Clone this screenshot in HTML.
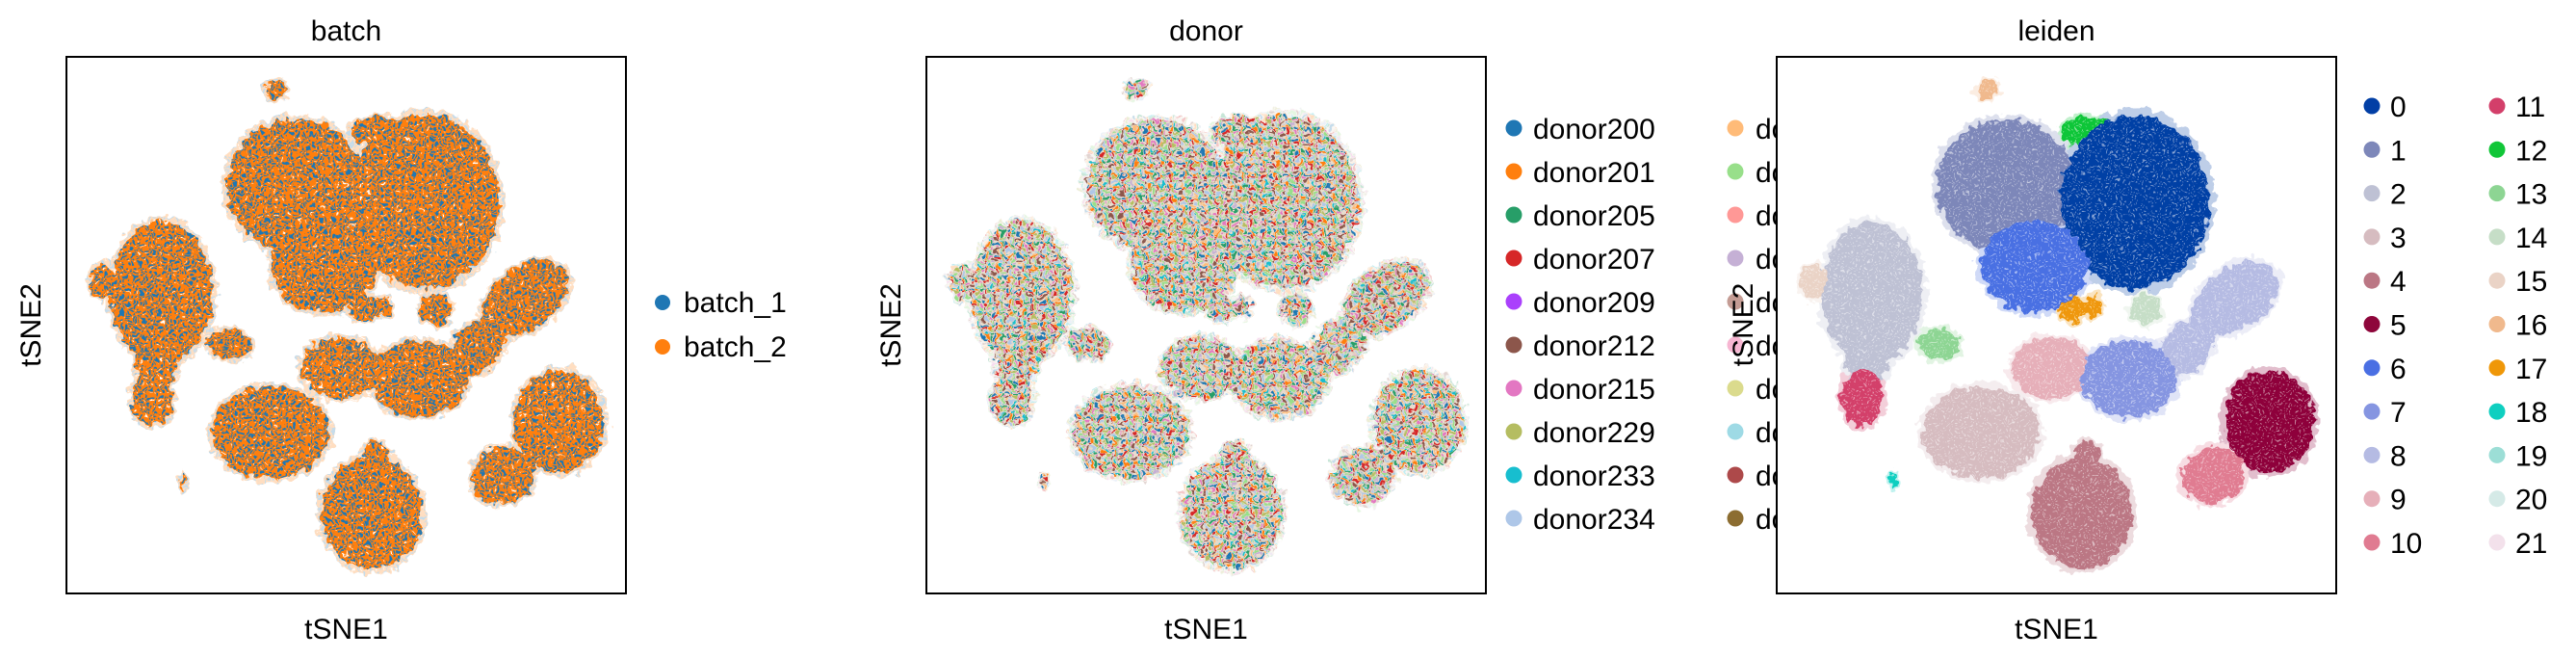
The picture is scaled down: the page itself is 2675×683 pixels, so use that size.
<!DOCTYPE html>
<html><head><meta charset="utf-8">
<style>
html,body{margin:0;padding:0;background:#fff;}
svg{display:block;font-family:"Liberation Sans",sans-serif;}
</style></head>
<body>
<svg id="fig" width="2675" height="683" viewBox="0 0 2675 683" xmlns="http://www.w3.org/2000/svg">
<defs>
  <filter id="fuzz" x="-20%" y="-20%" width="140%" height="140%">
    <feTurbulence type="fractalNoise" baseFrequency="0.12" numOctaves="2" seed="3" result="n"/>
    <feDisplacementMap in="SourceGraphic" in2="n" scale="14" xChannelSelector="R" yChannelSelector="G"/>
  </filter>
  <pattern id="batchPat" width="8" height="8" patternUnits="userSpaceOnUse">
    <rect width="8" height="8" fill="#ff7f0e"/>
    <circle cx="1.5" cy="1.5" r="1.5" fill="#1f77b4"/>
    <circle cx="5.5" cy="4.5" r="1.5" fill="#1f77b4"/>
    <circle cx="2" cy="6" r="1.0" fill="#1f77b4"/>
    <circle cx="6.5" cy="7.5" r="0.8" fill="#fff"/>
  </pattern>
  <pattern id="donorPat" width="12" height="12" patternUnits="userSpaceOnUse">
    <rect width="12" height="12" fill="#e8dccd"/>
    <circle cx="1.5" cy="1.5" r="1.5" fill="#1f77b4"/>
    <circle cx="5.5" cy="1.5" r="1.5" fill="#ff7f0e"/>
    <circle cx="9.5" cy="1.5" r="1.5" fill="#279e68"/>
    <circle cx="3.5" cy="4.5" r="1.5" fill="#d62728"/>
    <circle cx="7.5" cy="4.5" r="1.5" fill="#b5bd61"/>
    <circle cx="11" cy="5" r="1.3" fill="#e377c2"/>
    <circle cx="1.5" cy="8" r="1.5" fill="#8c564b"/>
    <circle cx="5.5" cy="8" r="1.5" fill="#aec7e8"/>
    <circle cx="9.5" cy="8" r="1.5" fill="#98df8a"/>
    <circle cx="3.5" cy="11" r="1.3" fill="#ffbb78"/>
    <circle cx="7.5" cy="11" r="1.3" fill="#17becf"/>
    <circle cx="11" cy="10.5" r="1.1" fill="#c5b0d5"/>
  </pattern>
  <pattern id="speck" width="6" height="6" patternUnits="userSpaceOnUse">
    <circle cx="2" cy="2" r="0.9" fill="#fff" opacity="0.55"/>
    <circle cx="5" cy="5" r="0.8" fill="#fff" opacity="0.45"/>
  </pattern>
</defs>
</svg>
<script>
// ---- data (tSNE coordinates, 0..100 in both axes) ----
const clusterIds    = [16, 12, 1, 0, 6, 2, 2, 15, 13, 11, 17, 17, 14, 8, 8, 9, 7, 3, 5, 10, 4, 4, 18];
const clusterX      = [37.5, 56, 41, 64, 46, 17, 16, 6.5, 29, 15.3, 53, 56.5, 66, 82, 73.5, 49, 63, 36.5, 88, 78, 54.6, 55.3, 20.8];
const clusterY      = [94, 86, 76, 73, 61, 56, 43, 58, 46.5, 36.5, 53, 53.5, 53, 55, 46, 42, 40, 30, 32, 22, 15, 26, 21];
const clusterSpreadX= [2, 5.5, 13, 14, 10, 9.5, 4, 2.5, 4, 4, 2.5, 1.8, 3, 9, 6, 7.5, 9, 11, 8.5, 6, 9.5, 2.5, 0.5];
const clusterSpreadY= [1.8, 3, 13, 17, 9, 14, 5, 3.5, 3, 5.5, 2.5, 2, 3, 6, 4.5, 6, 7.5, 9, 10, 5.5, 11, 2.5, 1.5];
const clusterAngle  = [-20, 0, 0, 0, 0, 0, 0, 0, 10, 0, 0, 0, 0, -35, -50, 0, 0, 0, 0, -20, 0, 0, 0];
const leidenLabels  = ["0","1","2","3","4","5","6","7","8","9","10","11","12","13","14","15","16","17","18","19","20","21"];
const leidenColors  = ["#023fa5","#7d87b9","#bec1d4","#d6bcc0","#bb7784","#8e063b","#4a6fe3","#8595e1","#b5bbe3","#e6afb9","#e07b91","#d33f6a","#11c638","#8dd593","#c6dec7","#ead3c6","#f0b98d","#ef9708","#0fcfc0","#9cded6","#d5eae7","#f3e1eb"];
const donorLabels   = ["donor200","donor201","donor205","donor207","donor209","donor212","donor215","donor229","donor233","donor234","donor2a","donor2b","donor2c","donor2d","donor2e","donor2f","donor2g","donor2h","donor2i","donor2j"];
const donorColors   = ["#1f77b4","#ff7f0e","#279e68","#d62728","#aa40fc","#8c564b","#e377c2","#b5bd61","#17becf","#aec7e8","#ffbb78","#98df8a","#ff9896","#c5b0d5","#c49c94","#f7b6d2","#dbdb8d","#9edae5","#ad494a","#8c6d31"];
const batchLabels   = ["batch_1","batch_2"];
const batchColors   = ["#1f77b4","#ff7f0e"];

const NS = "http://www.w3.org/2000/svg";
const svg = document.getElementById('fig');
function mk(tag, attrs, parent){ const e=document.createElementNS(NS,tag); for(const k in attrs) e.setAttribute(k,attrs[k]); (parent||svg).appendChild(e); return e; }
const PW=581, PH=557, PT=59;
const panels=[{x:69,title:"batch",fill:()=> "url(#batchPat)"},
              {x:962,title:"donor",fill:()=> "url(#donorPat)"},
              {x:1845,title:"leiden",fill:(id)=> leidenColors[id]}];
function sx(p,v){ return p.x + v/100*PW; }
function sy(v){ return PT + PH - v/100*PH; }
function txt(s,x,y,size,anchor,name,parent){ const t=mk('text',{x:x,y:y,'font-size':size,'text-anchor':anchor,fill:'#000'},parent); t.textContent=s;
  
  
  return t; }

panels.forEach((p,pi)=>{
  const g=mk('g',{});
  
  
  const bg=mk('rect',{x:p.x,y:PT,width:PW,height:PH,fill:'#fff'},g);
  
  
  const hg=mk('g',{opacity:0.25,filter:'url(#fuzz)'},g);
  const cg=mk('g',{filter:'url(#fuzz)'},g);
  for(let i=0;i<clusterIds.length;i++){
    const cx=sx(p,clusterX[i]), cy=sy(clusterY[i]);
    const rx=clusterSpreadX[i]/100*PW*0.95, ry=clusterSpreadY[i]/100*PH*0.95;
    const tr=`rotate(${clusterAngle[i]} ${cx} ${cy})`;
    const h=mk('ellipse',{cx:cx,cy:cy,rx:rx*1.04+3,ry:ry*1.04+3,fill:p.fill(clusterIds[i]),transform:tr},hg);
    
    
    const e=mk('ellipse',{cx:cx,cy:cy,rx:rx,ry:ry,fill:p.fill(clusterIds[i]),transform:tr},cg);
    
    
    if(pi===2){ mk('ellipse',{cx:cx,cy:cy,rx:rx,ry:ry,fill:'url(#speck)',transform:tr},cg); }
  }
  const fr=mk('rect',{x:p.x,y:PT,width:PW,height:PH,fill:'none',stroke:'#000','stroke-width':2},g);
  
  
  txt(p.title,p.x+PW/2,42,30,'middle',p.title+'-title',g);
  txt('tSNE1',p.x+PW/2,663,30,'middle',p.title+'-x-axis-title',g);
  if(pi<2){
    const yl=txt('tSNE2',0,0,30,'middle',p.title+'-y-axis-title',g);
    yl.setAttribute('transform',`translate(${p.x-27},${PT+PH/2}) rotate(-90)`);
  }
  p.g=g;
});

// batch legend
batchLabels.forEach((l,i)=>{
  const y=314+i*46;
  const c=mk('circle',{cx:688,cy:y,r:8,fill:batchColors[i]});
  
  
  txt(l,710,y+10,30,'start','legend-label-'+l);
});

// donor legend (second column is cut off by leiden axes)
const dl=mk('g',{});


svg.insertBefore(dl, panels[2].g);
donorLabels.forEach((l,i)=>{
  const col=Math.floor(i/10), row=i%10;
  const y=133+row*45;
  const mx= col===0?1572:1802, tx= col===0?1592:1823;
  const c=mk('circle',{cx:mx,cy:y,r:8.5,fill:donorColors[i]},dl);
  
  
  txt(l,tx,y+11,30,'start','legend-label-'+l,dl);
});
// leiden y label drawn over legend
const lyl=txt('tSNE2',0,0,30,'middle','leiden-y-axis-title');
lyl.setAttribute('transform',`translate(1820,337) rotate(-90)`);

// leiden legend
leidenLabels.forEach((l,i)=>{
  const col=Math.floor(i/11), row=i%11;
  const y=110+row*45.3;
  const mx= col===0?2463:2593, tx= col===0?2482:2612;
  const c=mk('circle',{cx:mx,cy:y,r:8.5,fill:leidenColors[i]});
  
  
  txt(l,tx,y+11,30,'start','legend-label-leiden-'+l);
});
</script>
</body></html>
